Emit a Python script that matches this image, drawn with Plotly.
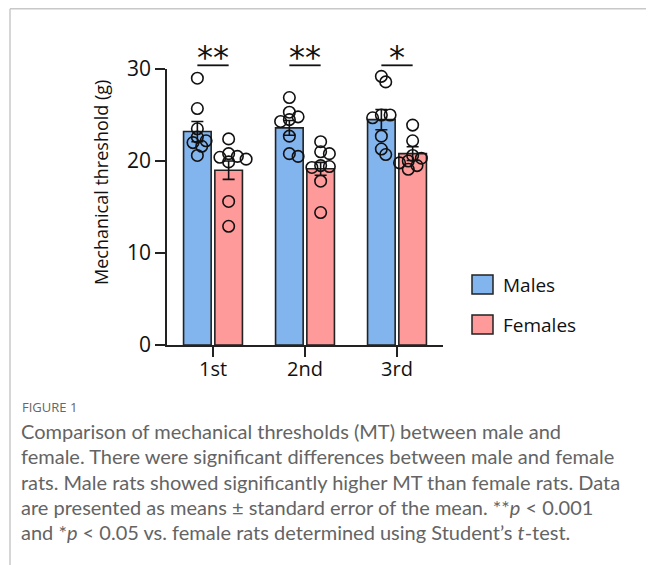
import plotly.graph_objects as go

# ---------------- data ----------------
sessions = ["1st", "2nd", "3rd"]
male_mean = [23.2, 23.6, 24.5]
male_sem = [1.1, 0.8, 1.1]
female_mean = [19.0, 19.15, 20.8]
female_sem = [1.0, 0.7, 0.75]

male_pts_1st = [29.0, 25.7, 23.5, 22.6, 22.2, 21.6, 20.6, 22.0]
male_pts_2nd = [26.9, 25.3, 24.5, 24.3, 24.8, 22.7, 20.8, 20.5]
male_pts_3rd = [29.2, 28.6, 25.0, 25.0, 24.7, 22.7, 21.3, 20.7]
female_pts_1st = [22.4, 20.4, 20.2, 19.9, 20.5, 20.8, 15.6, 12.9]
female_pts_2nd = [22.1, 20.8, 21.0, 19.5, 19.3, 19.4, 17.8, 14.4]
female_pts_3rd = [23.9, 22.2, 20.6, 20.3, 20.0, 19.8, 19.5, 19.1]

significance = ["**", "**", "*"]
y_ticks = [0, 10, 20, 30]
y_title = "Mechanical threshold (g)"
caption_title = "FIGURE 1"
caption_lines = [
    "Comparison of mechanical thresholds (MT) between male and",
    "female. There were significant differences between male and female",
    "rats. Male rats showed significantly higher MT than female rats. Data",
    "are presented as means ± standard error of the mean. **<i>p</i> &lt; 0.001",
    "and *<i>p</i> &lt; 0.05 vs. female rats determined using Student’s <i>t</i>-test.",
]

# ---------------- styling / geometry ----------------
PAGE_OFF = 8  # browser body margin
W, H = 654 - PAGE_OFF, 565 - PAGE_OFF
ML, MT = 167 - PAGE_OFF, 69 - PAGE_OFF
MR = 654 - 443
MB = 565 - 345
PW, PH = W - ML - MR, H - MT - MB
BLUE = "#82b4ee"
PINK = "#ff9a9a"
FONT = "Open Sans"
BAR_W = 0.30
OFF_M, OFF_F = -0.17, 0.17
XR = [-0.5, 2.5]
YR = [0, 30]
px_x = PW / (XR[1] - XR[0])
px_y = PH / (YR[1] - YR[0])
DIAM = 11.5  # marker diameter in px


def swarm(values, center):
    """Simple deterministic beeswarm: returns x positions for values."""
    placed = []
    xs = [None] * len(values)
    order = sorted(range(len(values)), key=lambda i: -values[i])
    step = 0.38 * DIAM / px_x
    for i in order:
        v = values[i]
        ok = None
        for k in range(8):
            cands = [0.0] if k == 0 else [k * step, -k * step]
            for c in cands:
                good = all(((c - px) * px_x) ** 2 + ((v - pv) * px_y) ** 2
                           >= (DIAM * 0.6) ** 2 for (px, pv) in placed)
                if good:
                    ok = c
                    break
            if ok is not None:
                break
        if ok is None:
            ok = 0.0
        placed.append((ok, v))
        xs[i] = center + ok
    return xs


def page2paper(x, y):
    return (x - PAGE_OFF - ML) / PW, (H - MB - (y - PAGE_OFF)) / PH


def data2paper_y(y):
    return (y - YR[0]) / (YR[1] - YR[0])


fig = go.Figure()
xpos = list(range(len(sessions)))

fig.add_trace(go.Bar(
    x=xpos, y=male_mean, width=BAR_W, offset=OFF_M - BAR_W / 2,
    marker=dict(color=BLUE, line=dict(color="#222", width=1.6)),
    error_y=dict(type="data", array=male_sem, color="#111", thickness=1.6, width=6),
    showlegend=False,
))
fig.add_trace(go.Bar(
    x=xpos, y=female_mean, width=BAR_W, offset=OFF_F - BAR_W / 2,
    marker=dict(color=PINK, line=dict(color="#222", width=1.6)),
    error_y=dict(type="data", array=female_sem, color="#111", thickness=1.6, width=6),
    showlegend=False,
))

male_pts = [male_pts_1st, male_pts_2nd, male_pts_3rd]
female_pts = [female_pts_1st, female_pts_2nd, female_pts_3rd]
for i in xpos:
    for pts, off in ((male_pts[i], OFF_M), (female_pts[i], OFF_F)):
        fig.add_trace(go.Scatter(
            x=swarm(pts, i + off), y=pts, mode="markers",
            marker=dict(symbol="circle-open", size=DIAM, color="#111",
                        line=dict(width=1.6, color="#111")),
            showlegend=False, cliponaxis=False,
        ))

# significance bars and stars
for i, s in enumerate(significance):
    yl = data2paper_y(30.4)
    fig.add_shape(type="line", xref="x", yref="paper",
                  x0=i + OFF_M, x1=i + OFF_F, y0=yl, y1=yl,
                  line=dict(color="#111", width=1.8))
    fig.add_annotation(x=i, y=data2paper_y(31.3), xref="x", yref="paper",
                       text=s,
                       showarrow=False, xanchor="center", yanchor="middle",
                       font=dict(family="DejaVu Sans", size=32, color="#111"))

# y-axis title (placed as in the reference, above axis centre)
tx, ty = page2paper(101, 183)
fig.add_annotation(x=tx, y=ty, xref="paper", yref="paper", text=y_title,
                   textangle=-90, showarrow=False, xanchor="center", yanchor="middle",
                   font=dict(family=FONT, size=18, color="#111"))

# legend (manual)
for (y0, y1, col, lab) in ((275, 294, BLUE, "Males"), (315, 334, PINK, "Females")):
    ax0, ay0 = page2paper(472, y1)
    ax1, ay1 = page2paper(493, y0)
    fig.add_shape(type="rect", xref="paper", yref="paper",
                  x0=ax0, x1=ax1, y0=ay0, y1=ay1,
                  fillcolor=col, line=dict(color="#222", width=1.5))
    lx, ly = page2paper(501, (y0 + y1) / 2)
    fig.add_annotation(x=lx, y=ly, xref="paper", yref="paper", text=lab,
                       showarrow=False, xanchor="left", yanchor="middle",
                       font=dict(family=FONT, size=19, color="#111"))

# frame lines
fx0, fy0 = page2paper(10, 8.8)
fx1, fy1 = page2paper(660, 570)
fig.add_shape(type="line", xref="paper", yref="paper", x0=fx0, x1=fx1, y0=fy0, y1=fy0,
              line=dict(color="#c8c8c8", width=1.5))
fig.add_shape(type="line", xref="paper", yref="paper", x0=fx0, x1=fx0, y0=fy0, y1=fy1,
              line=dict(color="#c8c8c8", width=1.5))

# caption
cx, cy = page2paper(20, 407)
fig.add_annotation(x=cx, y=cy, xref="paper", yref="paper", text=caption_title,
                   showarrow=False, xanchor="left", yanchor="middle",
                   font=dict(family=FONT, size=13, color="#666666"))
for k, line in enumerate(caption_lines):
    lx, ly = page2paper(19, 431 + k * 25.3)
    fig.add_annotation(x=lx, y=ly, xref="paper", yref="paper", text=line,
                       showarrow=False, xanchor="left", yanchor="middle",
                       font=dict(family="Lato", size=20, color="#646464"))

fig.update_layout(
    width=W, height=H,
    margin=dict(l=ML, r=MR, t=MT, b=MB, autoexpand=False),
    paper_bgcolor="white", plot_bgcolor="white",
    barmode="overlay",
    showlegend=False,
    xaxis=dict(range=XR, tickvals=xpos, ticktext=sessions, showgrid=False,
               zeroline=False, showline=True, linecolor="#222", linewidth=1.6,
               ticks="outside", ticklen=10, tickwidth=1.6, tickcolor="#222",
               ticklabelstandoff=-5,
               tickfont=dict(family=FONT, size=20, color="#111")),
    yaxis=dict(range=YR, tickvals=y_ticks, showgrid=False, zeroline=False,
               showline=True, linecolor="#222", linewidth=1.6,
               ticks="outside", ticklen=10, tickwidth=1.6, tickcolor="#222",
               tickfont=dict(family=FONT, size=21, color="#111")),
)

fig.write_html("out.html")
